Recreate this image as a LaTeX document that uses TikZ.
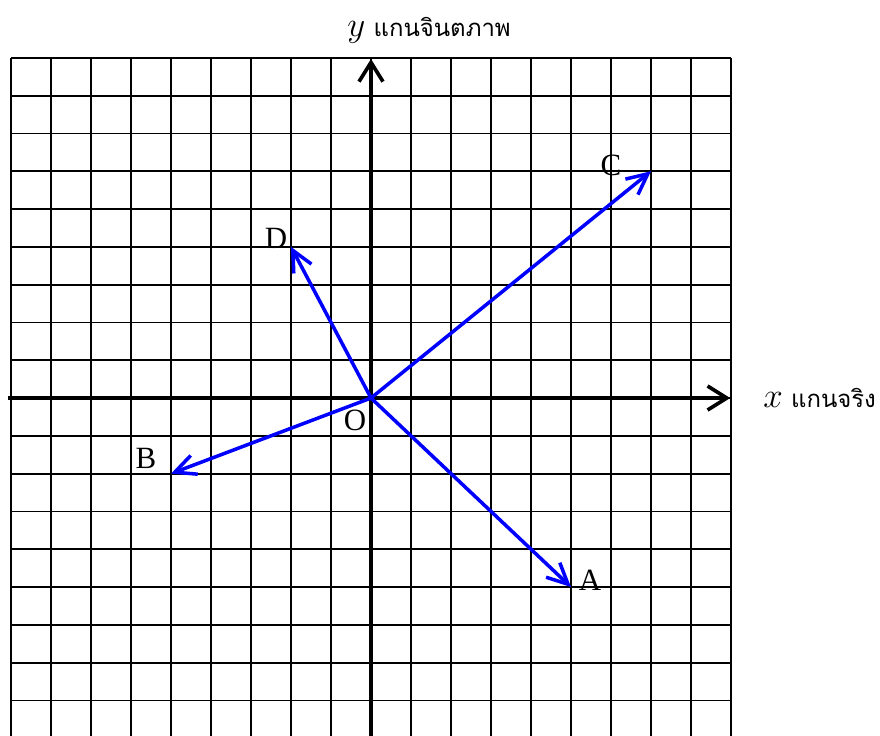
\documentclass[tikz,border=0pt]{standalone}
\usepackage{fontspec}
\setmainfont{Liberation Serif}
\newfontfamily\thaifont[Script=Thai]{Loma}
\usetikzlibrary{arrows.meta}
\begin{document}
\begin{tikzpicture}[x=1cm,y=0.945cm,
  gridline/.style={line width=1.25pt},
  axisline/.style={line width=2.6pt,-{Straight Barb[length=4.8mm,width=6mm]}},
  vec/.style={blue,line width=2.5pt,-{Straight Barb[length=5.2mm,width=5mm]}},
  lab/.style={font=\fontsize{22}{26}\selectfont,inner sep=0pt},
  axlab/.style={font=\fontsize{24}{28}\selectfont,inner sep=0pt,anchor=west}]
\useasboundingbox (-9.275,-8.94) rectangle (12.725,10.53);
\clip (-9.275,-8.94) rectangle (12.725,10.53);
% grid
\foreach \i in {-9,...,9}{
  \draw[gridline] (\i,-9.5) -- (\i,9);
  \draw[gridline] (-9,\i) -- (9,\i);
}
% axes
\coordinate (xs) at (-9.075,0);
\coordinate (xe) at (8.98,0);
\coordinate (ys) at (0,-9.5);
\coordinate (ye) at (0,8.97);
\draw[axisline] (xs) -- (xe);
\draw[axisline] (ys) -- (ye);
% vectors
\coordinate (o) at (0,0);
\coordinate (a) at (5,-5);
\coordinate (b) at (-5,-2);
\coordinate (c) at (7,6);
\coordinate (d) at (-2,4);
\draw[vec] (o) -- (a);
\draw[vec] (o) -- (b);
\draw[vec] (o) -- (c);
\draw[vec] (o) -- (d);
% labels
\node[lab] (la) at (5.475,-4.81) {A};
\node[lab] (lb) at (-5.625,-1.59) {B};
\node[lab] (lc) at (6.0,6.16) {C};
\node[lab] (ld) at (-2.375,4.22) {D};
\node[lab] (lo) at (-0.4,-0.58) {O};
\node[axlab] (ly) at (-0.6,9.74) {$y$ {\thaifont\fontsize{17}{20}\selectfont แกนจินตภาพ}};
\node[axlab] (lx) at (9.8,0) {$x$ {\thaifont\fontsize{17}{20}\selectfont แกนจริง}};
\end{tikzpicture}
\end{document}
